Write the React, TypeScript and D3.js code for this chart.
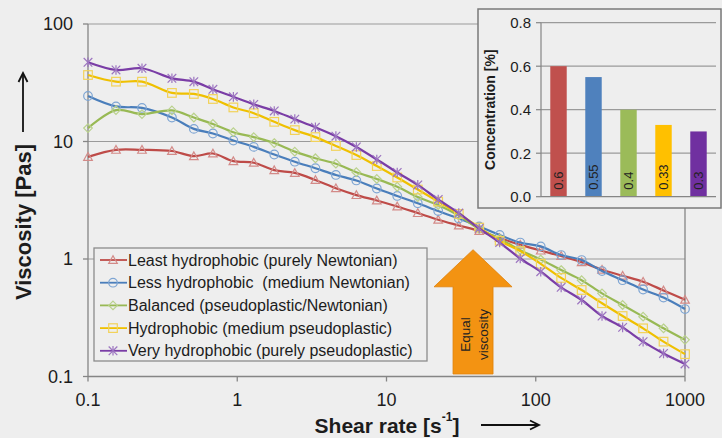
import React from "react";
import * as d3 from "d3";

// ---------- data ----------
const shearRates = [0.1, 0.154, 0.23, 0.365, 0.512, 0.687, 0.942, 1.29, 1.77, 2.43, 3.34, 4.58, 6.28, 8.61, 11.8, 16.2, 22.2, 30.5, 41.8, 57.3, 78.7, 108, 148, 203, 278, 382, 524, 718, 1000];

const leastHydrophobic = [7.4, 8.5, 8.5, 8.3, 7.5, 7.9, 6.8, 6.6, 5.7, 5.4, 4.7, 4.0, 3.5, 3.15, 2.8, 2.46, 2.16, 1.93, 1.73, 1.51, 1.32, 1.18, 1.06, 0.94, 0.81, 0.72, 0.64, 0.54, 0.45];
const lessHydrophobic = [24.4, 19.9, 19.3, 16.0, 12.8, 11.7, 10.2, 9.0, 7.75, 6.73, 5.92, 5.19, 4.66, 3.98, 3.44, 2.98, 2.56, 2.21, 1.89, 1.6, 1.38, 1.28, 1.08, 0.98, 0.79, 0.66, 0.55, 0.47, 0.375];
const balanced = [13.0, 18.5, 17.1, 18.4, 16.0, 14.1, 12.0, 10.9, 9.7, 8.2, 7.2, 6.47, 5.48, 4.8, 4.12, 3.37, 2.88, 2.34, 1.8, 1.49, 1.19, 0.99, 0.805, 0.66, 0.51, 0.406, 0.323, 0.257, 0.205];
const hydrophobic = [36.8, 32.3, 32.3, 25.9, 25.4, 23.0, 19.5, 17.4, 14.7, 12.5, 10.9, 9.16, 7.67, 6.18, 4.94, 3.9, 3.08, 2.42, 1.85, 1.43, 1.17, 0.91, 0.69, 0.545, 0.42, 0.327, 0.257, 0.198, 0.155];
const veryHydrophobic = [47.2, 40.6, 42.0, 34.5, 32.3, 27.8, 24.0, 20.7, 18.2, 15.5, 13.2, 11.1, 8.98, 7.03, 5.45, 4.27, 3.21, 2.46, 1.82, 1.38, 1.01, 0.78, 0.574, 0.448, 0.327, 0.262, 0.198, 0.157, 0.128];

const seriesNames = [
  "Least hydrophobic (purely Newtonian)",
  "Less hydrophobic  (medium Newtonian)",
  "Balanced (pseudoplastic/Newtonian)",
  "Hydrophobic (medium pseudoplastic)",
  "Very hydrophobic (purely pseudoplastic)",
];
const seriesValues = [leastHydrophobic, lessHydrophobic, balanced, hydrophobic, veryHydrophobic];

const xTicks = [0.1, 1, 10, 100, 1000];
const yTicks = [0.1, 1, 10, 100];
const xTickLabels = ["0.1", "1", "10", "100", "1000"];
const yTickLabels = ["0.1", "1", "10", "100"];

const concCategories = ["0.6", "0.55", "0.4", "0.33", "0.3"];
const concValues = [0.6, 0.55, 0.4, 0.33, 0.3];
const concTicks = [0, 0.2, 0.4, 0.6, 0.8];

// ---------- styles ----------
const lineColors = ["#BE4B48", "#4A7EBB", "#98B954", "#EFC000", "#7A3DA6"];
const markerColors = ["#D38A88", "#7EA5D3", "#B9D18B", "#F2D25A", "#9C74C0"];
const markerTypes = ["triangle", "circle", "diamond", "square", "asterisk"];
const barColors = ["#C0504D", "#4F81BD", "#9BBB59", "#FFC000", "#7030A0"];

const FONT = "'Liberation Sans', Arial, Helvetica, sans-serif";
const BG = "#eeeeee";
const TXT = "#1c1c1c";

function Marker({ type, cx, cy, color }: { type: string; cx: number; cy: number; color: string }) {
  const s = 4.3;
  const common = { fill: "none", stroke: color, strokeWidth: 1.2 };
  if (type === "triangle")
    return <polygon points={`${cx},${cy - s} ${cx - s},${cy + s * 0.8} ${cx + s},${cy + s * 0.8}`} {...common} />;
  if (type === "circle") return <circle cx={cx} cy={cy} r={s} {...common} />;
  if (type === "diamond")
    return <polygon points={`${cx},${cy - s} ${cx + s},${cy} ${cx},${cy + s} ${cx - s},${cy}`} {...common} />;
  if (type === "square") return <rect x={cx - s} y={cy - s} width={2 * s} height={2 * s} {...common} />;
  return (
    <g {...common}>
      <line x1={cx - s} y1={cy - s} x2={cx + s} y2={cy + s} />
      <line x1={cx - s} y1={cy + s} x2={cx + s} y2={cy - s} />
      <line x1={cx} y1={cy - s - 0.5} x2={cx} y2={cy + s + 0.5} />
    </g>
  );
}

export default function App() {
  const W = 722;
  const H = 438;
  const left = 88, right = 685, top = 24, bottom = 376.5;

  const x = d3.scaleLog().domain([0.1, 1000]).range([left, right]);
  const y = d3.scaleLog().domain([0.1, 100]).range([bottom, top]);

  const line = d3
    .line<number>()
    .x((_, i) => x(shearRates[i]))
    .y((d) => y(d))
    .curve(d3.curveCatmullRom.alpha(0.5));

  // inset
  const inset = { x0: 478, y0: 9, x1: 721, y1: 208 };
  const xb = d3.scaleBand<string>().domain(concCategories).range([541, 716]).paddingInner(0.53).paddingOuter(0.265);
  const yb = d3.scaleLinear().domain([0, 0.8]).range([196.7, 22.7]);

  // legend
  const leg = { x0: 94, y0: 248, x1: 427, y1: 361 };
  const legRows = seriesNames.map((_, i) => 260 + i * 22.7);

  // arrow annotation (data coords)
  const arrowShear = 38;
  const ax = x(arrowShear);
  const tipY = y(1.2);
  const baseY = y(0.58);
  const botY = y(0.105);
  const headHalf = 39, shaftHalf = 20;
  const arrowPath = `M${ax},${tipY} L${ax + headHalf},${baseY} L${ax + shaftHalf},${baseY} L${ax + shaftHalf},${botY} L${ax - shaftHalf},${botY} L${ax - shaftHalf},${baseY} L${ax - headHalf},${baseY} Z`;

  return (
    <div style={{ position: "fixed", left: 0, top: 0, width: W, height: H }}>
      <svg width={W} height={H} style={{ display: "block", fontFamily: FONT }}>
        <rect x={0} y={0} width={W} height={H} fill={BG} />

        {/* gridlines */}
        {yTicks.slice(1).map((t) => (
          <line key={t} x1={left} x2={right} y1={y(t)} y2={y(t)} stroke="#9a9a9a" strokeWidth={1.2} />
        ))}
        {/* axes */}
        <line x1={left} x2={left} y1={top} y2={bottom} stroke="#858585" strokeWidth={1.3} />
        <line x1={left} x2={right} y1={bottom} y2={bottom} stroke="#858585" strokeWidth={1.3} />
        <line x1={right} x2={right} y1={top} y2={bottom} stroke="#858585" strokeWidth={1.3} />
        {yTicks.map((t, i) => (
          <g key={t}>
            <line x1={left - 5} x2={left} y1={y(t)} y2={y(t)} stroke="#858585" strokeWidth={1.3} />
            <text x={73} y={y(t)} textAnchor="end" dominantBaseline="central" fontSize={18} fill={TXT}>
              {yTickLabels[i]}
            </text>
          </g>
        ))}
        {xTicks.map((t, i) => (
          <g key={t}>
            <line x1={x(t)} x2={x(t)} y1={bottom} y2={bottom + 5} stroke="#858585" strokeWidth={1.3} />
            <text x={x(t)} y={400} textAnchor="middle" dominantBaseline="central" fontSize={18} fill={TXT}>
              {xTickLabels[i]}
            </text>
          </g>
        ))}

        {/* series */}
        {seriesValues.map((vals, si) => (
          <g key={si}>
            <path d={line(vals) || ""} fill="none" stroke={lineColors[si]} strokeWidth={2.2} />
            {vals.map((v, i) => (
              <Marker key={i} type={markerTypes[si]} cx={x(shearRates[i])} cy={y(v)} color={markerColors[si]} />
            ))}
          </g>
        ))}

        {/* legend */}
        <rect x={leg.x0} y={leg.y0} width={leg.x1 - leg.x0} height={leg.y1 - leg.y0} fill={BG} stroke="#8c8c8c" strokeWidth={1.3} />
        {seriesNames.map((name, i) => (
          <g key={name}>
            <line x1={100} x2={127} y1={legRows[i]} y2={legRows[i]} stroke={lineColors[i]} strokeWidth={1.8} />
            <Marker type={markerTypes[i]} cx={113} cy={legRows[i]} color={markerColors[i]} />
            <text x={128} y={legRows[i]} dominantBaseline="central" fontSize={16} fill={TXT} style={{ whiteSpace: "pre" }}>
              {name}
            </text>
          </g>
        ))}

        {/* equal viscosity arrow */}
        <path d={arrowPath} fill="#F39312" stroke="#E0820A" strokeWidth={0.8} />
        <text transform={`translate(${ax - 8},${(baseY + botY) / 2 + 4}) rotate(-90)`} textAnchor="middle" dominantBaseline="central" fontSize={13.5} fill="#222">
          Equal
        </text>
        <text transform={`translate(${ax + 10},${(baseY + botY) / 2 + 4}) rotate(-90)`} textAnchor="middle" dominantBaseline="central" fontSize={13.5} fill="#222">
          viscosity
        </text>

        {/* axis titles */}
        <text transform={`translate(23,222) rotate(-90)`} textAnchor="middle" dominantBaseline="central" fontSize={22} fontWeight="bold" fill={TXT}>
          Viscosity [Pas]
        </text>
        <g stroke="#111" strokeWidth={1.8} fill="none">
          <line x1={23} x2={23} y1={132} y2={74} />
          <path d="M18.5,82 L23,73 L27.5,82" />
        </g>
        <text x={387} y={425} textAnchor="middle" dominantBaseline="central" fontSize={21} fontWeight="bold" fill={TXT}>
          Shear rate [s
          <tspan fontSize={12} dy={-8}>-1</tspan>
          <tspan dy={8}>]</tspan>
        </text>
        <g stroke="#111" strokeWidth={1.8} fill="none">
          <line x1={481} x2={538} y1={425} y2={425} />
          <path d="M530,420.5 L539,425 L530,429.5" />
        </g>

        {/* inset */}
        <rect x={inset.x0} y={inset.y0} width={inset.x1 - inset.x0} height={inset.y1 - inset.y0} fill={BG} stroke="#7a7a7a" strokeWidth={1.5} />
        {concTicks.map((t) => (
          <g key={t}>
            {t > 0 && <line x1={541} x2={716} y1={yb(t)} y2={yb(t)} stroke="#9a9a9a" strokeWidth={1.2} />}
            <line x1={536} x2={541} y1={yb(t)} y2={yb(t)} stroke="#858585" strokeWidth={1.2} />
            <text x={531} y={yb(t)} textAnchor="end" dominantBaseline="central" fontSize={15} fill={TXT}>
              {d3.format(".1f")(t)}
            </text>
          </g>
        ))}
        <line x1={541} x2={541} y1={yb(0.8)} y2={yb(0)} stroke="#858585" strokeWidth={1.2} />
        {concValues.map((v, i) => {
          const bx = xb(concCategories[i]) || 0;
          return (
            <g key={i}>
              <rect x={bx} y={yb(v)} width={xb.bandwidth()} height={yb(0) - yb(v)} fill={barColors[i]} />
              <text
                transform={`translate(${bx + xb.bandwidth() / 2},${yb(0) - 7}) rotate(-90)`}
                textAnchor="start"
                dominantBaseline="central"
                fontSize={13}
                fill="#222"
              >
                {concCategories[i]}
              </text>
            </g>
          );
        })}
        <line x1={541} x2={716} y1={yb(0)} y2={yb(0)} stroke="#858585" strokeWidth={1.2} />
        <text transform={`translate(490,${(yb(0) + yb(0.8)) / 2}) rotate(-90)`} textAnchor="middle" dominantBaseline="central" fontSize={14} fontWeight="bold" fill={TXT}>
          Concentration [%]
        </text>
      </svg>
    </div>
  );
}
